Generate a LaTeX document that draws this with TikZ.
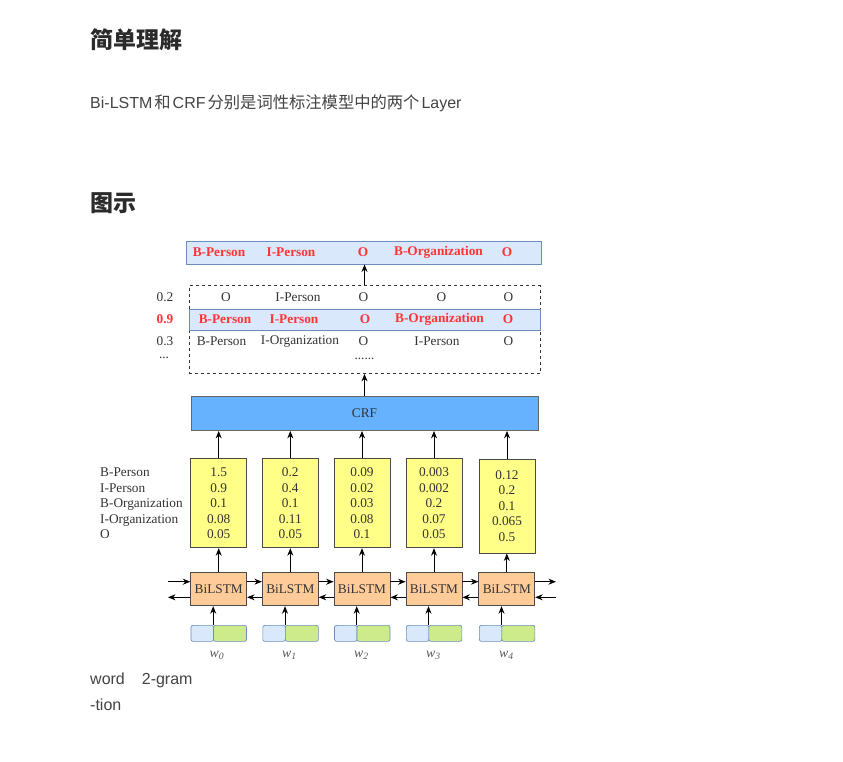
\documentclass[tikz,border=0pt]{standalone}
\usepackage{fontspec}
\setmainfont{Liberation Serif}
\newfontfamily\cjk{Noto Sans CJK SC}
\newfontfamily\lsans{Liberation Sans}
\usetikzlibrary{arrows.meta}
\definecolor{lblue}{HTML}{DAE8FC}
\definecolor{bblue}{HTML}{6C8EBF}
\definecolor{crfblue}{HTML}{66B2FF}
\definecolor{yel}{HTML}{FFFF88}
\definecolor{org}{HTML}{FFCC99}
\definecolor{grn}{HTML}{CDEB8B}
\definecolor{redt}{HTML}{FF3333}
\definecolor{bord}{HTML}{4A4A4A}
\definecolor{titlec}{HTML}{2B2B2B}
\definecolor{bodyc}{HTML}{444444}
\definecolor{dtc}{HTML}{333333}
\newcommand{\zh}[1]{{\cjk\fontsize{16.3}{18}\selectfont #1}}
\begin{document}
\begin{tikzpicture}[x=1pt,y=-1pt,
  dtext/.style={font=\fontsize{13.3}{15.5}\selectfont, text=dtc, inner sep=0pt},
  redb/.style={font=\fontsize{13.3}{15.5}\selectfont\bfseries, text=redt, inner sep=0pt},
  arr/.style={-{Stealth[length=7.5pt,width=6pt]}, line width=0.9pt, black},
  pagetitle/.style={font=\cjk\bfseries\fontsize{23}{26}\selectfont, text=titlec, anchor=west, inner sep=0pt},
  pagebody/.style={font=\lsans\fontsize{16}{18}\selectfont, text=bodyc, anchor=west, inner sep=0pt},
  ybox/.style={draw=bord, fill=yel, minimum width=56pt, line width=0.8pt, inner sep=0pt, align=center, font=\fontsize{13.3}{15.5}\selectfont, text=dtc},
  lbox/.style={draw=bord, fill=org, minimum width=56pt, minimum height=33pt, line width=0.8pt, inner sep=0pt, font=\fontsize{13.3}{15.5}\selectfont, text=dtc},
  inb/.style={draw=bblue, fill=lblue, minimum width=22.5pt, minimum height=16pt, rounded corners=2pt, line width=0.7pt, inner sep=0pt},
  ing/.style={draw=bblue, fill=grn, minimum width=33pt, minimum height=16pt, rounded corners=2pt, line width=0.7pt, inner sep=0pt},
  wlab/.style={font=\fontsize{13.8}{15.5}\selectfont\itshape, text=black!65, inner sep=0pt}
]
\useasboundingbox[fill=white] (0,0) rectangle (843,761);

% page text
\node[pagetitle] (t1) at (90,40) {简单理解};
\node[pagebody] (b1) at (90,103) {Bi-LSTM\hspace{2pt}\zh{和}\hspace{2pt}CRF\hspace{2pt}\zh{分别是词性标注模型中的两个}\hspace{2pt}Layer};
\node[pagetitle] (t2) at (90,203) {图示};
\node[pagebody] (b2) at (90,680) {word\hspace{17pt}2-gram};
\node[pagebody] (b3) at (90,705) {-tion};

% top result box
\node[draw=bblue, fill=lblue, line width=0.8pt, minimum width=355pt, minimum height=23pt] (top) at (364,252.5) {};
\node[redb] at (219,252.5) {B-Person};
\node[redb] at (291,252.5) {I-Person};
\node[redb] at (363,252.5) {O};
\node[redb] at (438.5,252.5) {B-Organization};
\node[redb] at (507,252.5) {O};

% dashed candidate box
\node[draw=black!80, dashed, line width=0.8pt, minimum width=351pt, minimum height=88pt] (cand) at (364.5,329.5) {};
\node[draw=bblue, fill=lblue, line width=0.8pt, minimum width=351pt, minimum height=21.5pt] (best) at (364.5,320) {};

\node[dtext] at (165,297) {0.2};
\node[dtext] at (226,297) {O};
\node[dtext] at (298,297) {I-Person};
\node[dtext] at (363.5,297) {O};
\node[dtext] at (441.5,297) {O};
\node[dtext] at (508.5,297) {O};

\node[redb] at (165,319.5) {0.9};
\node[redb] at (225,319.5) {B-Person};
\node[redb] at (294,319.5) {I-Person};
\node[redb] at (365,319.5) {O};
\node[redb] at (439.5,319.5) {B-Organization};
\node[redb] at (508,319.5) {O};

\node[dtext] at (165,341.5) {0.3};
\node[dtext] at (221.5,341.5) {B-Person};
\node[dtext] at (300,341.5) {I-Organization};
\node[dtext] at (363.5,341.5) {O};
\node[dtext] at (437,341.5) {I-Person};
\node[dtext] at (508.5,341.5) {O};

\node[dtext] at (164,358) {...};
\node[dtext] at (364.5,359) {......};

% CRF
\node[draw=black!60, fill=crfblue, line width=0.8pt, minimum width=347pt, minimum height=34pt, font=\fontsize{13.3}{15.5}\selectfont, text=dtc] (crf) at (364.5,413.5) {CRF};

\draw[arr] (crf.north -| cand.south) -- (cand.south);
\draw[arr] (cand.north) -- (cand.north |- top.south);

% emission labels
\node[dtext, anchor=west, align=left] (elab) at (100,503.5) {B-Person\\I-Person\\B-Organization\\I-Organization\\O};

% yellow boxes
\node[ybox, minimum height=89pt] (y0) at (218.7,503.3) {1.5\\0.9\\0.1\\0.08\\0.05};
\node[ybox, minimum height=89pt] (y1) at (290.3,503.3) {0.2\\0.4\\0.1\\0.11\\0.05};
\node[ybox, minimum height=89pt] (y2) at (362,503.3) {0.09\\0.02\\0.03\\0.08\\0.1};
\node[ybox, minimum height=89pt] (y3) at (434,503.3) {0.003\\0.002\\0.2\\0.07\\0.05};
\node[ybox, minimum height=94pt] (y4) at (507,506) {0.12\\0.2\\0.1\\0.065\\0.5};

\foreach \i in {0,...,4}{
  \draw[arr] (y\i.north) -- (y\i.north |- crf.south);
}

% BiLSTM row
\node[lbox] (l0) at (218.7,589.3) {BiLSTM};
\node[lbox] (l1) at (290.3,589.3) {BiLSTM};
\node[lbox] (l2) at (362,589.3) {BiLSTM};
\node[lbox] (l3) at (434,589.3) {BiLSTM};
\node[lbox] (l4) at (506.8,589.3) {BiLSTM};

\foreach \i in {0,...,4}{
  \draw[arr] (l\i.north) -- (l\i.north |- y\i.south);
}

\coordinate (lin) at (168,581.7);
\coordinate (lout) at (168,597.3);
\coordinate (rin) at (556,597.3);
\coordinate (rout) at (556,581.7);

\draw[arr] (lin) -- (lin -| l0.west);
\draw[arr] (l0.west |- lout) -- (lout);
\draw[arr] (l4.east |- rout) -- (rout);
\draw[arr] (rin) -- (rin -| l4.east);
\foreach \a/\b in {0/1,1/2,2/3,3/4}{
  \draw[arr] (l\a.east |- lin) -- (l\b.west |- lin);
  \draw[arr] (l\b.west |- lout) -- (l\a.east |- lout);
}

% inputs
\foreach \i/\x in {0/190.7,1/262.5,2/334.2,3/406,4/479}{
  \node[inb, anchor=north west] (ib\i) at (\x,625) {};
  \node[ing, anchor=north west] (ig\i) at (\x+22.5,625) {};
  \draw[arr] (ig\i.north west) -- (ig\i.north west |- l\i.south);
}

\node[wlab] (w0) at (217,655.5) {w\textsubscript{0}};
\node[wlab] (w1) at (289.5,655.5) {w\textsubscript{1}};
\node[wlab] (w2) at (361.5,655.5) {w\textsubscript{2}};
\node[wlab] (w3) at (433.5,655.5) {w\textsubscript{3}};
\node[wlab] (w4) at (506.5,655.5) {w\textsubscript{4}};
\end{tikzpicture}
\end{document}
